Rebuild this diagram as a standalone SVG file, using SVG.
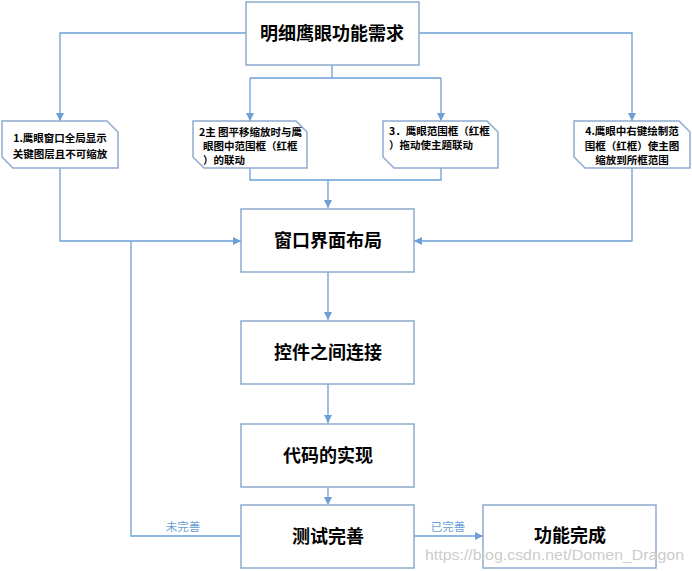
<svg xmlns="http://www.w3.org/2000/svg" width="692" height="571" viewBox="0 0 692 571">
<style>
.box{fill:#ffffff;stroke:#8eaad0;stroke-width:1.5}
.ln{fill:none;stroke:#6a9fd8;stroke-width:1.3}
.big{font-family:"Noto Sans CJK SC","Liberation Sans",sans-serif;font-weight:bold;font-size:18px;fill:#000;text-anchor:middle}
.sm{font-family:"Noto Sans CJK SC","Liberation Sans",sans-serif;font-weight:bold;font-size:10.5px;fill:#000}
.lab{font-family:"Noto Sans CJK SC","Liberation Sans",sans-serif;font-size:11.5px;fill:#6a9fd8;text-anchor:middle}
.wm{font-family:"Liberation Sans",Arial,sans-serif;font-size:15px;fill:#cccccc}
</style>
<defs>
<marker id="arr" viewBox="0 0 10 10" refX="10" refY="5" markerWidth="8" markerHeight="8" markerUnits="userSpaceOnUse" orient="auto">
<path d="M0,0 L10,5 L0,10 Z" fill="#6a9fd8"/>
</marker>
</defs>
<g id="connectors">
<path class="ln" d="M246,33 H60 V121" marker-end="url(#arr)"/>
<path class="ln" d="M419,33 H632 V121" marker-end="url(#arr)"/>
<path class="ln" d="M332,65 V78"/>
<path class="ln" d="M250,78 H441"/>
<path class="ln" d="M250,78 V121" marker-end="url(#arr)"/>
<path class="ln" d="M441,78 V121" marker-end="url(#arr)"/>
<path class="ln" d="M250,168 V180 H441 V168"/>
<path class="ln" d="M328,180 V208" marker-end="url(#arr)"/>
<path class="ln" d="M60,168 V241 H241" marker-end="url(#arr)"/>
<path class="ln" d="M632,168 V241 H414" marker-end="url(#arr)"/>
<path class="ln" d="M328,272 V320" marker-end="url(#arr)"/>
<path class="ln" d="M328,384 V423" marker-end="url(#arr)"/>
<path class="ln" d="M328,487 V505" marker-end="url(#arr)"/>
<path class="ln" d="M414,536 H483" marker-end="url(#arr)"/>
<path class="ln" d="M241,536 H131 V241"/>
<text class="lab" x="183" y="531">未完善</text>
<text class="lab" x="448" y="531">已完善</text>
</g>
<g id="n-top">
<rect class="box" x="246" y="2" width="173" height="63"/>
<text class="big" x="332" y="40">明细鹰眼功能需求</text>
</g>
<g id="n-req1">
<path class="box" d="M2,121 H107 L118,132 V168 H13 L2,157 Z"/>
<text class="sm" x="60" y="142" text-anchor="middle">1.鹰眼窗口全局显示</text>
<text class="sm" x="60" y="158" text-anchor="middle">关键图层且不可缩放</text>
</g>
<g id="n-req2">
<path class="box" d="M193,121 H296 L307,132 V168 H204 L193,157 Z"/>
<text class="sm" x="199" y="136">2主 图平移缩放时与鹰</text>
<text class="sm" x="203" y="150">眼图中范围框（红框</text>
<text class="sm" x="203" y="164">）的联动</text>
</g>
<g id="n-req3">
<path class="box" d="M383,121 H487 L498,132 V168 H394 L383,157 Z"/>
<text class="sm" x="389" y="135">3．鹰眼范围框（红框</text>
<text class="sm" x="389" y="149">）拖动使主题联动</text>
</g>
<g id="n-req4">
<path class="box" d="M574,121 H679 L690,132 V168 H585 L574,157 Z"/>
<text class="sm" x="632" y="135" text-anchor="middle">4.鹰眼中右键绘制范</text>
<text class="sm" x="632" y="150" text-anchor="middle">围框（红框）使主图</text>
<text class="sm" x="632" y="164" text-anchor="middle">缩放到所框范围</text>
</g>
<g id="n-layout">
<rect class="box" x="241" y="209" width="173" height="63"/>
<text class="big" x="328" y="247">窗口界面布局</text>
</g>
<g id="n-connect">
<rect class="box" x="241" y="321" width="173" height="63"/>
<text class="big" x="328" y="359">控件之间连接</text>
</g>
<g id="n-code">
<rect class="box" x="241" y="424" width="173" height="63"/>
<text class="big" x="328" y="462">代码的实现</text>
</g>
<g id="n-test">
<rect class="box" x="241" y="505" width="173" height="63"/>
<text class="big" x="328" y="543">测试完善</text>
</g>
<g id="n-done">
<rect class="box" x="483" y="505" width="173" height="63"/>
<text class="big" x="570" y="542">功能完成</text>
</g>
<text class="wm" x="425" y="560" textLength="259" lengthAdjust="spacingAndGlyphs">https://blog.csdn.net/Domen_Dragon</text>
</svg>
